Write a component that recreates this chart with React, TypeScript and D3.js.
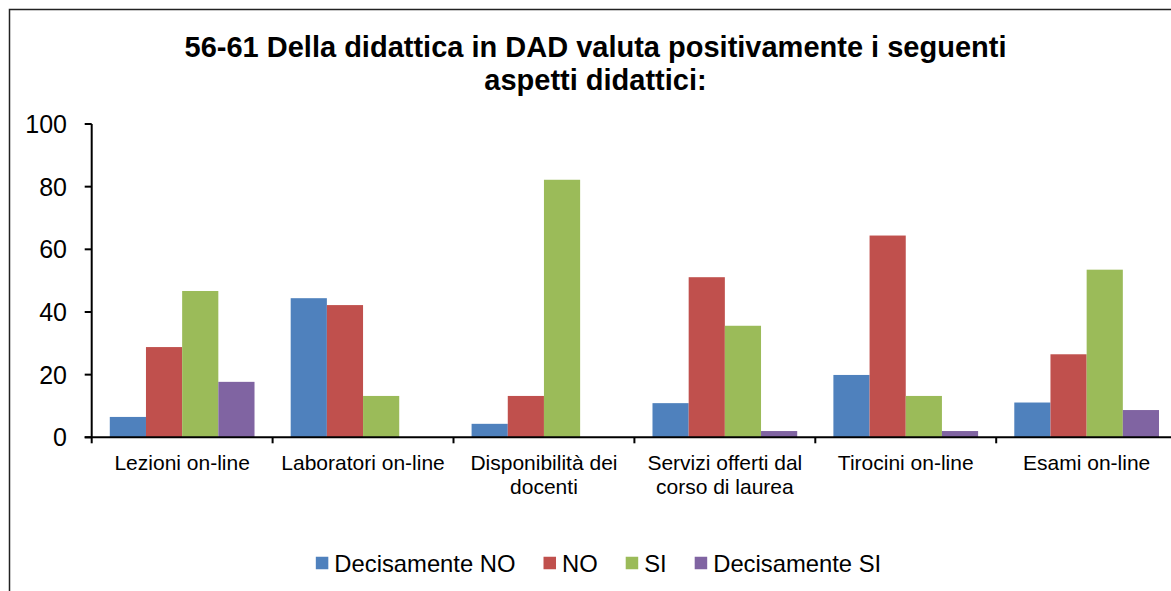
import React, { useRef, useEffect } from "react";
import * as d3 from "d3";

const categories = [
  "Lezioni on-line",
  "Laboratori on-line",
  "Disponibilità dei\ndocenti",
  "Servizi offerti dal\ncorso di laurea",
  "Tirocini on-line",
  "Esami on-line",
];
const seriesNames = ["Decisamente NO", "NO", "SI", "Decisamente SI"];
const seriesColors = ["#4F81BD", "#C0504D", "#9BBB59", "#8064A2"];

const decisamenteNo = [6.5, 44.4, 4.3, 10.9, 19.9, 11.1];
const no = [28.8, 42.2, 13.2, 51.1, 64.4, 26.5];
const si = [46.7, 13.2, 82.2, 35.6, 13.2, 53.5];
const decisamenteSi = [17.7, 0, 0, 2.0, 2.0, 8.7];
const seriesValues = [decisamenteNo, no, si, decisamenteSi];

const yTicks = [0, 20, 40, 60, 80, 100];
const titleLines = [
  "56-61 Della didattica in DAD valuta positivamente i seguenti",
  "aspetti didattici:",
];

const FONT = "'Liberation Sans', Arial, sans-serif";

function App() {
  const svgRef = useRef<SVGSVGElement | null>(null);

  useEffect(() => {
    const width = 1171;
    const height = 591;
    const svg = d3.select(svgRef.current);
    svg.selectAll("*").remove();
    svg.attr("width", width).attr("height", height);

    // outer frame (runs off the right/bottom of the picture)
    svg
      .append("rect")
      .attr("x", 9.5)
      .attr("y", 9.5)
      .attr("width", width + 20)
      .attr("height", height + 20)
      .attr("fill", "white")
      .attr("stroke", "#222")
      .attr("stroke-width", 1.5);

    const plotLeft = 91.7;
    const band = 180.9;
    const x0 = d3
      .scaleBand()
      .domain(categories)
      .range([plotLeft, plotLeft + band * categories.length])
      .padding(0);
    const x1 = d3
      .scaleBand()
      .domain(seriesNames)
      .range([x0.bandwidth() * 0.1, x0.bandwidth() * 0.9])
      .padding(0);
    const y = d3.scaleLinear().domain([0, 100]).range([437.3, 124]);

    // title
    svg
      .append("text")
      .attr("text-anchor", "middle")
      .style("font-family", FONT)
      .style("font-weight", "bold")
      .style("font-size", "29px")
      .selectAll("tspan")
      .data(titleLines)
      .enter()
      .append("tspan")
      .attr("x", 595.5)
      .attr("y", (_, i) => 57 + i * 33)
      .text((d) => d);

    // bars
    categories.forEach((cat, ci) => {
      const g = svg.append("g").attr("transform", `translate(${x0(cat)},0)`);
      seriesNames.forEach((s, si) => {
        const v = seriesValues[si][ci];
        if (v <= 0) return;
        g.append("rect")
          .attr("x", x1(s)!)
          .attr("y", y(v))
          .attr("width", x1.bandwidth())
          .attr("height", y(0) - y(v))
          .attr("fill", seriesColors[si]);
      });
    });

    // y axis
    const yAxis = svg.append("g");
    yAxis
      .append("line")
      .attr("x1", plotLeft)
      .attr("x2", plotLeft)
      .attr("y1", y(100))
      .attr("y2", y(0))
      .attr("stroke", "#000")
      .attr("stroke-width", 2);
    yTicks.forEach((t) => {
      yAxis
        .append("line")
        .attr("x1", plotLeft - 7)
        .attr("x2", plotLeft)
        .attr("y1", y(t))
        .attr("y2", y(t))
        .attr("stroke", "#000")
        .attr("stroke-width", 2);
      yAxis
        .append("text")
        .attr("x", 67)
        .attr("y", y(t))
        .attr("dy", "0.36em")
        .attr("text-anchor", "end")
        .style("font-family", FONT)
        .style("font-size", "25px")
        .text(t);
    });

    // x axis
    const xAxis = svg.append("g");
    xAxis
      .append("line")
      .attr("x1", plotLeft - 7)
      .attr("x2", x0.range()[1])
      .attr("y1", y(0))
      .attr("y2", y(0))
      .attr("stroke", "#000")
      .attr("stroke-width", 2);
    categories.forEach((cat) => {
      xAxis
        .append("line")
        .attr("x1", x0(cat)!)
        .attr("x2", x0(cat)!)
        .attr("y1", y(0))
        .attr("y2", y(0) + 6)
        .attr("stroke", "#000")
        .attr("stroke-width", 2);
      const cx = x0(cat)! + x0.bandwidth() / 2;
      xAxis
        .append("text")
        .attr("text-anchor", "middle")
        .style("font-family", FONT)
        .style("font-size", "21px")
        .selectAll("tspan")
        .data(cat.split("\n"))
        .enter()
        .append("tspan")
        .attr("x", cx)
        .attr("y", (_, j) => 470 + j * 23.5)
        .text((d) => d);
    });

    // legend, laid out from measured text widths
    const legend = svg.append("g");
    const sq = 12.5;
    const gapText = 6;
    const gapItem = 28;
    const items = seriesNames.map((name, i) => {
      const gi = legend.append("g");
      gi.append("rect")
        .attr("width", sq)
        .attr("height", sq)
        .attr("y", 563 - sq / 2)
        .attr("fill", seriesColors[i]);
      const t = gi
        .append("text")
        .attr("x", sq + gapText)
        .attr("y", 563)
        .attr("dy", "0.36em")
        .style("font-family", FONT)
        .style("font-size", "23.8px")
        .text(name);
      const w = (t.node() as SVGTextElement).getComputedTextLength();
      return { gi, w: sq + gapText + w };
    });
    const total = d3.sum(items, (d) => d.w) + gapItem * (items.length - 1);
    let cursor = 598.5 - total / 2;
    items.forEach(({ gi, w }) => {
      gi.attr("transform", `translate(${cursor},0)`);
      cursor += w + gapItem;
    });
  }, []);

  return (
    <svg
      ref={svgRef}
      style={{ position: "absolute", left: 0, top: 0, background: "white" }}
    ></svg>
  );
}

export default App;
